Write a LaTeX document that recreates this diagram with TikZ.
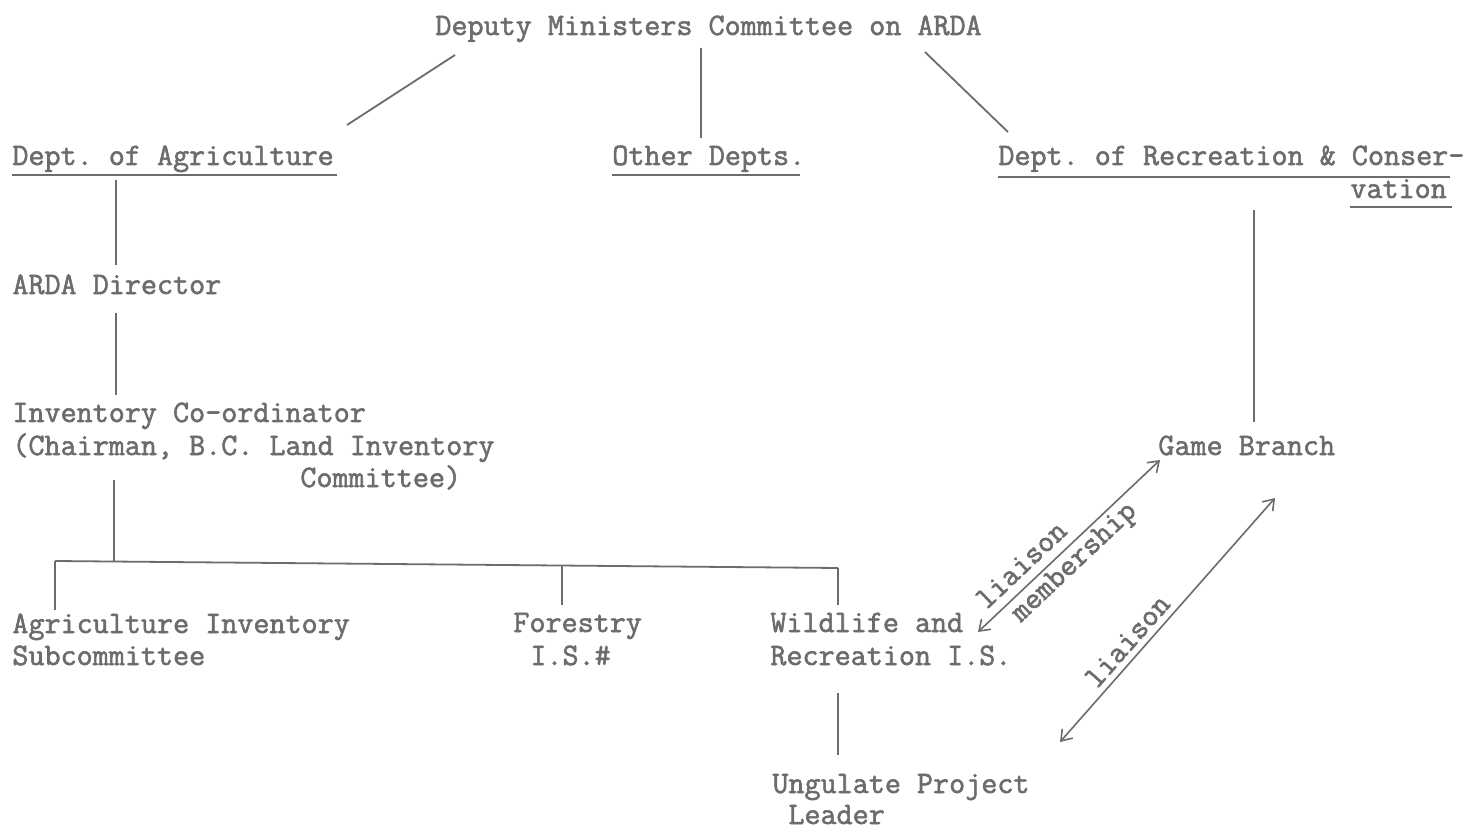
\documentclass[tikz,border=0pt]{standalone}
\usepackage{fontspec}
\newfontfamily\tw{Latin Modern Mono}[FakeBold=1.8]
\usetikzlibrary{arrows.meta}
\definecolor{ink}{RGB}{108,108,108}
\definecolor{paper}{RGB}{255,255,255}
\tikzset{
  lbl/.style={anchor=base west, inner sep=0pt, text=ink,
    font=\tw\frenchspacing\fontsize{15.6}{16.25}\selectfont},
  tag/.style={inner sep=0pt, text=ink, sloped,
    font=\tw\frenchspacing\fontsize{15.6}{16.25}\selectfont},
  link/.style={draw=ink, line width=0.9pt},
  uline/.style={draw=ink, line width=0.8pt},
  dbl/.style={draw=ink, line width=0.8pt, {Straight Barb[length=5pt,width=7pt]}-{Straight Barb[length=5pt,width=7pt]}}
}
\begin{document}
\begin{tikzpicture}[x=0.5pt,y=-0.5pt]
\useasboundingbox[fill=paper] (0,0) rectangle (1464,829);

% text nodes
\node[lbl] (dep) at (435,35) {Deputy Ministers Committee on ARDA};
\node[lbl] (agr) at (12,165) {Dept. of Agriculture};
\node[lbl] (oth) at (612,165) {Other Depts.};
\node[lbl] (rec) at (998,165) {Dept. of Recreation \& Conser-};
\node[lbl] (recb) at (1350,198) {vation};
\node[lbl] (ard) at (12,294) {ARDA Director};
\node[lbl] (inv) at (12,422) {Inventory Co-ordinator};
\node[lbl] (invb) at (12,455) {(Chairman, B.C. Land Inventory};
\node[lbl] (invc) at (300,487) {Committee)};
\node[lbl] (gam) at (1158,455) {Game Branch};
\node[lbl] (ais) at (12,633) {Agriculture Inventory};
\node[lbl] (aisb) at (12,665) {Subcommittee};
\node[lbl] (for) at (513,632) {Forestry};
\node[lbl] (forb) at (530,665) {I.S.\#};
\node[lbl] (wil) at (770,632) {Wildlife and};
\node[lbl] (wilb) at (770,665) {Recreation I.S.};
\node[lbl] (ung) at (772,793) {Ungulate Project};
\node[lbl] (ungb) at (788,824) {Leader};

% underlines
\draw[uline] (agr.base west) ++(0,10) -- ++(325,0);
\draw[uline] (oth.base west) ++(0,10) -- ++(188,0);
\draw[uline] (rec.base west) ++(0,12) -- ++(452,0);
\draw[uline] (recb.base west) ++(0,9) -- ++(102,0);

% connector end points
\coordinate (d1) at (455,55);   \coordinate (a1) at (347,125);
\coordinate (d2) at (701,48);   \coordinate (o1) at (701,138);
\coordinate (d3) at (925,52);   \coordinate (r1) at (1008,132);
\coordinate (a2) at (116,180);  \coordinate (ar1) at (116,265);
\coordinate (ar2) at (116,313); \coordinate (i1) at (116,395);
\coordinate (i2) at (114,480);  \coordinate (i3) at (114,562);
\coordinate (bl) at (55,561);   \coordinate (br) at (838,568);
\coordinate (bm) at (562,565);
\coordinate (t1) at (55,610);   \coordinate (t2) at (562,605);
\coordinate (t3) at (838,605);
\coordinate (w1) at (838,693);  \coordinate (u1) at (838,755);
\coordinate (r2) at (1254,210); \coordinate (g1) at (1254,422);
\coordinate (wa) at (978,632);  \coordinate (ga) at (1160,460);
\coordinate (wb) at (1060,742); \coordinate (gb) at (1275,498);

% connectors
\draw[link] (d1) -- (a1);
\draw[link] (d2) -- (o1);
\draw[link] (d3) -- (r1);
\draw[link] (a2) -- (ar1);
\draw[link] (ar2) -- (i1);
\draw[link] (i2) -- (i3);
\draw[link] (bl) -- (br);
\draw[link] (bl) -- (t1);
\draw[link] (bm) -- (t2);
\draw[link] (br) -- (t3);
\draw[link] (w1) -- (u1);
\draw[link] (r2) -- (g1);

\draw[dbl] (wa) -- (ga)
  node[tag, pos=0.31, above=4.5pt] (l1) {liaison}
  node[tag, pos=0.47, below=1.5pt] (m1) {membership};
\draw[dbl] (wb) -- (gb)
  node[tag, pos=0.37, above=3pt] (l2) {liaison};
\end{tikzpicture}
\end{document}
